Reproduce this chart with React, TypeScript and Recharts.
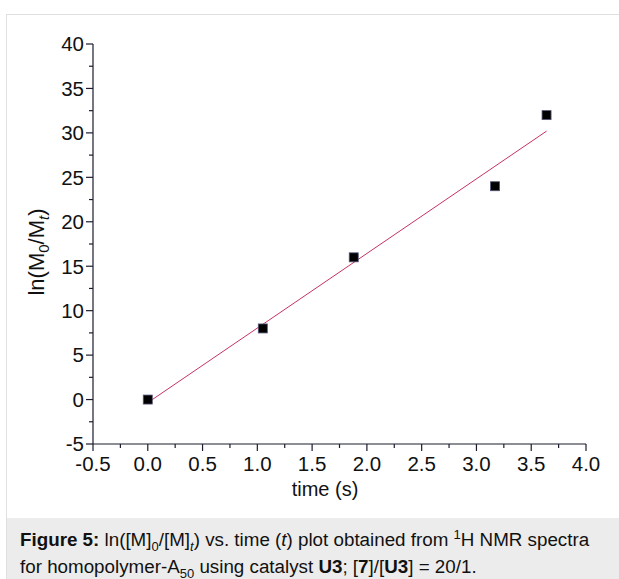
import { ScatterChart, Scatter, XAxis, YAxis, ReferenceLine, Label } from "recharts"

// measured points: time (s) vs ln(M0/Mt)
const TIME = [0, 1.05, 1.88, 3.17, 3.64]
const LN_RATIO = [0, 8, 16, 24, 32]

// linear fit drawn in the figure (endpoints)
const FIT_X = [0, 3.64]
const FIT_Y = [-0.35, 30.2]

const X_MAJOR = [-0.5, 0, 0.5, 1, 1.5, 2, 2.5, 3, 3.5, 4]
const X_MINOR = [-0.25, 0.25, 0.75, 1.25, 1.75, 2.25, 2.75, 3.25, 3.75]
const Y_MAJOR = [-5, 0, 5, 10, 15, 20, 25, 30, 35, 40]
const Y_MINOR = [-2.5, 2.5, 7.5, 12.5, 17.5, 22.5, 27.5, 32.5, 37.5]

const FONT = "'Liberation Sans', Arial, sans-serif"
const AXIS = "#1c1c2e"
const FIT = "#c8325f"
const TICK_FS = 20.5

const points = TIME.map((t, i) => ({ x: t, y: LN_RATIO[i] }))
const xTicks = [...X_MAJOR, ...X_MINOR].sort((a, b) => a - b)
const yTicks = [...Y_MAJOR, ...Y_MINOR].sort((a, b) => a - b)

function XTick({ x, y, payload }: any) {
  const major = X_MAJOR.includes(payload.value)
  return (
    <g>
      <line x1={x} x2={x} y1={y} y2={y + (major ? 7 : 4)} stroke={AXIS} strokeWidth={1.2} />
      {major && (
        <text x={x} y={y + 27} textAnchor="middle" fontSize={TICK_FS} fontFamily={FONT} fill="#111">
          {payload.value.toFixed(1)}
        </text>
      )}
    </g>
  )
}

function YTick({ x, y, payload }: any) {
  const major = Y_MAJOR.includes(payload.value)
  return (
    <g>
      <line x1={x} x2={x - (major ? 7 : 4)} y1={y} y2={y} stroke={AXIS} strokeWidth={1.2} />
      {major && (
        <text x={x - 9} y={y + 7.3} textAnchor="end" fontSize={TICK_FS} fontFamily={FONT} fill="#111">
          {payload.value}
        </text>
      )}
    </g>
  )
}

function Square({ cx, cy }: any) {
  return <rect x={cx - 4.5} y={cy - 4.5} width={9} height={9} fill="#000" stroke="#55557a" strokeWidth={0.8} />
}

const sub = { fontSize: 13, lineHeight: 0 }

export default function App() {
  return (
    <div style={{ position: "absolute", left: 0, top: 0, width: 619, height: 579, overflow: "hidden", background: "#fff", fontFamily: FONT }}>
      <div
        style={{
          position: "absolute",
          left: 6,
          top: 14,
          width: 640,
          height: 600,
          borderTop: "1px solid #e0e0e0",
          borderLeft: "1px solid #e0e0e0",
        }}
      />
      <div style={{ position: "absolute", left: 7, top: 518, width: 640, height: 61, background: "#ececec" }} />
      <div style={{ position: "absolute", left: 0, top: 0 }}>
        <ScatterChart width={619} height={519} margin={{ top: 44, right: 33, bottom: 45, left: 33 }}>
          <XAxis
            type="number"
            dataKey="x"
            domain={[-0.5, 4]}
            ticks={xTicks}
            interval={0}
            height={30}
            tickSize={0}
            tickMargin={0}
            tickLine={false}
            tick={<XTick />}
            axisLine={{ stroke: AXIS, strokeWidth: 1.2 }}
            allowDataOverflow
          >
            <Label
              content={() => (
                <text x={325} y={496} textAnchor="middle" fontSize={20} fontFamily={FONT} fill="#111">
                  time (s)
                </text>
              )}
            />
          </XAxis>
          <YAxis
            type="number"
            dataKey="y"
            domain={[-5, 40]}
            ticks={yTicks}
            interval={0}
            width={60}
            tickSize={0}
            tickMargin={0}
            tickLine={false}
            tick={<YTick />}
            axisLine={{ stroke: AXIS, strokeWidth: 1.2 }}
            allowDataOverflow
          >
            <Label
              content={() => (
                <text transform="rotate(-90, 44, 252)" x={44} y={252} textAnchor="middle" fontSize={22} fontFamily={FONT} fill="#111">
                  ln(M
                  <tspan fontSize={15} dy={5}>0</tspan>
                  <tspan dy={-5}>/M</tspan>
                  <tspan fontSize={15} dy={5} fontStyle="italic">t</tspan>
                  <tspan dy={-5}>)</tspan>
                </text>
              )}
            />
          </YAxis>
          <Scatter data={points} shape={<Square />} isAnimationActive={false} />
          <ReferenceLine
            segment={[
              { x: FIT_X[0], y: FIT_Y[0] },
              { x: FIT_X[1], y: FIT_Y[1] },
            ]}
            stroke={FIT}
            strokeWidth={1}
            ifOverflow="visible"
          />
        </ScatterChart>
      </div>
      <div style={{ position: "absolute", left: 20, top: 526, fontSize: 18.8, lineHeight: "27px", color: "#111", whiteSpace: "nowrap" }}>
        <div>
          <b>Figure 5:</b> ln([M]<sub style={sub}>0</sub>/[M]<sub style={sub}><i>t</i></sub>) vs. time (<i>t</i>) plot obtained from{" "}
          <sup style={sub}>1</sup>H NMR spectra
        </div>
        <div>
          for homopolymer-A<sub style={sub}>50</sub> using catalyst <b>U3</b>; [<b>7</b>]/[<b>U3</b>] = 20/1.
        </div>
      </div>
    </div>
  )
}
